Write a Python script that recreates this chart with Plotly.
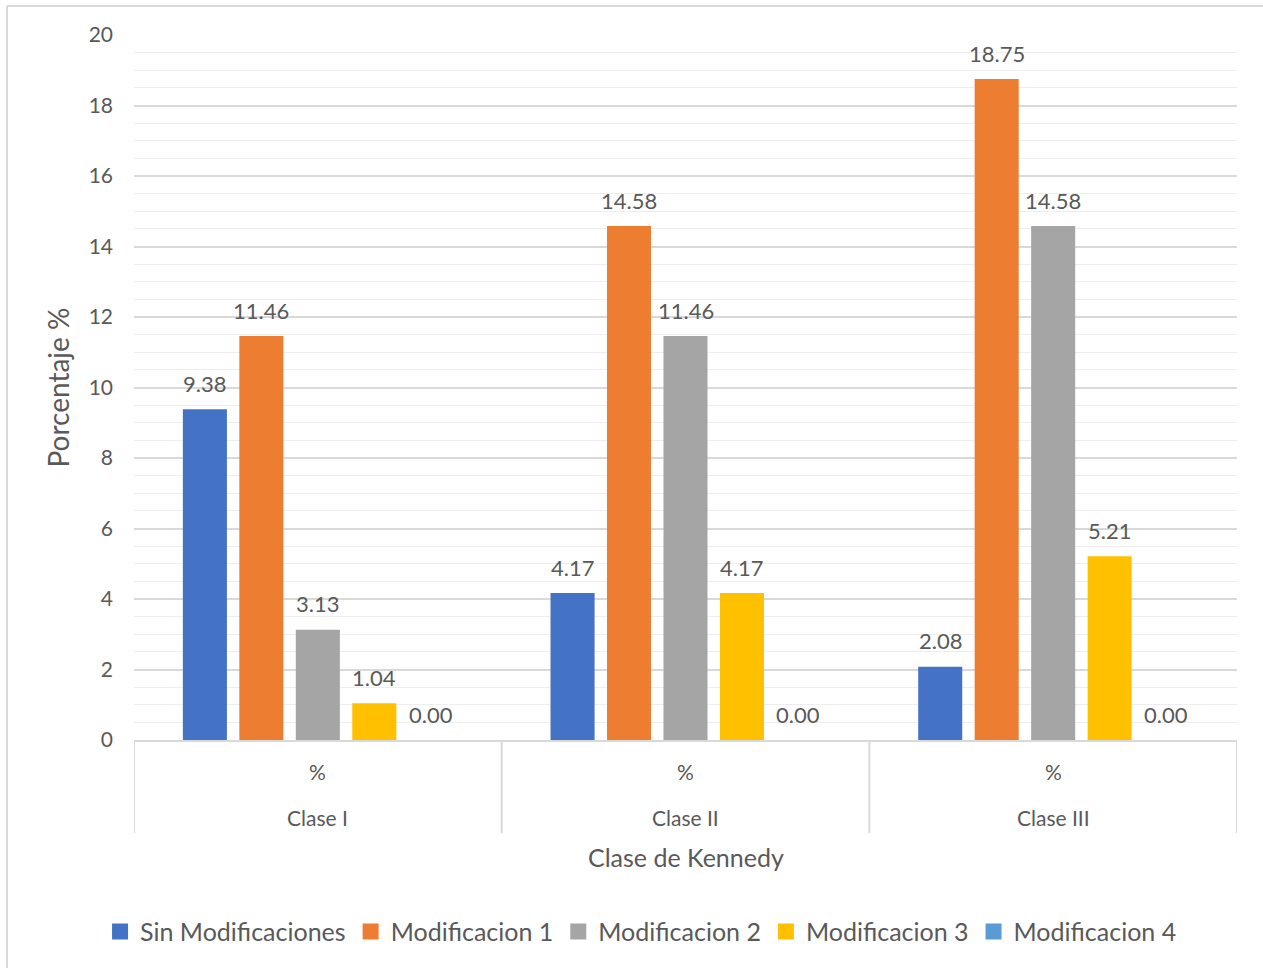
import plotly.graph_objects as go

# Data: percentage of cases per Kennedy class and modification
clases = ["Clase I", "Clase II", "Clase III"]
subnivel = ["%", "%", "%"]
series = ["Sin Modificaciones", "Modificacion 1", "Modificacion 2", "Modificacion 3", "Modificacion 4"]
sin_modificaciones = [9.38, 4.17, 2.08]
modificacion_1 = [11.46, 14.58, 18.75]
modificacion_2 = [3.13, 11.46, 14.58]
modificacion_3 = [1.04, 4.17, 5.21]
modificacion_4 = [0.00, 0.00, 0.00]
y_ticks = [0, 2, 4, 6, 8, 10, 12, 14, 16, 18, 20]

valores = [sin_modificaciones, modificacion_1, modificacion_2, modificacion_3, modificacion_4]
colores = ["#4472C4", "#ED7D31", "#A5A5A5", "#FFC000", "#5B9BD5"]

TXT = "#595959"
FONT = "Lato"
BARGAP = 0.232
BARGROUPGAP = 0.22

fig = go.Figure()
xpos = list(range(len(clases)))
for nombre, vals, col in zip(series, valores, colores):
    fig.add_trace(go.Bar(
        x=xpos, y=vals, name=nombre, showlegend=False,
        marker=dict(color=col, line=dict(width=0)),
    ))
# Legend entries with larger square swatches
for nombre, col in zip(series, colores):
    fig.add_trace(go.Scatter(
        x=[None], y=[None], mode="markers", name=nombre,
        marker=dict(symbol="square", size=16, color=col),
    ))

# Data labels above each bar
n = len(series)
slot = (1 - BARGAP) / n
for i, vals in enumerate(valores):
    for j, v in enumerate(vals):
        fig.add_annotation(
            x=j + (i - (n - 1) / 2) * slot, y=v, xref="x", yref="y",
            text=f"{v:.2f}", showarrow=False, yanchor="middle", yshift=26,
            font=dict(family=FONT, size=22, color=TXT),
        )

# Two-level category labels
for j, (c, s) in enumerate(zip(clases, subnivel)):
    fig.add_annotation(x=j, y=-0.044, xref="x", yref="paper", text=s,
                       showarrow=False, yanchor="middle",
                       font=dict(family=FONT, size=21, color=TXT))
    fig.add_annotation(x=j, y=-0.110, xref="x", yref="paper", text=c,
                       showarrow=False, yanchor="middle",
                       font=dict(family=FONT, size=21, color=TXT))

# Axis title for the category axis
fig.add_annotation(x=0.5, y=-0.166, xref="paper", yref="paper", text="Clase de Kennedy",
                   showarrow=False, yanchor="middle",
                   font=dict(family=FONT, size=25, color=TXT))

shapes = []
# Category dividers below the axis
for b in [-0.5, 0.5, 1.5, 2.5]:
    shapes.append(dict(type="line", xref="x", yref="paper", x0=b, x1=b, y0=0, y1=-0.132,
                       line=dict(color="#d9d9d9", width=2)))
# Chart frame (top and left edges)
shapes.append(dict(type="line", xref="paper", yref="paper", x0=-0.1151, x1=1.03, y0=1.0411, y1=1.0411,
                   line=dict(color="#d9d9d9", width=2)))
shapes.append(dict(type="line", xref="paper", yref="paper", x0=-0.1151, x1=-0.1151, y0=1.0411, y1=-0.34,
                   line=dict(color="#d9d9d9", width=2)))

fig.update_layout(
    width=1263, height=968,
    margin=dict(l=134, r=26, t=35, b=228, autoexpand=False),
    paper_bgcolor="white", plot_bgcolor="white",
    barmode="group", bargap=BARGAP, bargroupgap=BARGROUPGAP,
    font=dict(family=FONT, color=TXT),
    shapes=shapes,
    xaxis=dict(
        range=[-0.5, 2.5], showticklabels=False, showgrid=False, zeroline=False,
        showline=True, linecolor="#d9d9d9", linewidth=2, ticks="",
    ),
    yaxis=dict(
        range=[0, 20], tickvals=y_ticks, ticktext=[str(t) for t in y_ticks],
        tickfont=dict(family=FONT, size=21, color=TXT), ticklabelstandoff=20,
        showgrid=True, gridcolor="#d9d9d9", gridwidth=1.5, zeroline=False,
        minor=dict(dtick=0.5, showgrid=True, gridcolor="#eeeeee", gridwidth=1.4),
        title=dict(text="Porcentaje %", font=dict(family=FONT, size=28, color=TXT), standoff=10),
    ),
    legend=dict(
        orientation="h", x=0.4597, xanchor="center", y=-0.272, yanchor="middle",
        font=dict(family=FONT, size=25, color=TXT), itemwidth=30, tracegroupgap=0,
    ),
)

fig.write_html("out.html")
